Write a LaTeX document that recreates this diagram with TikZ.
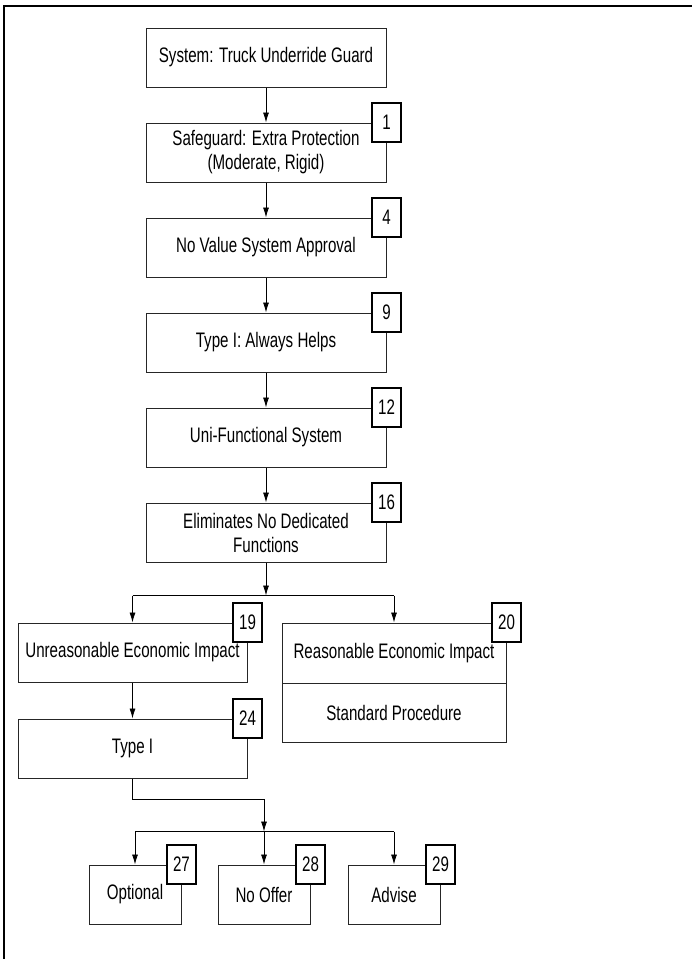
\documentclass[tikz,border=0pt]{standalone}
\usepackage{fontspec}
\setmainfont{Liberation Sans}[FakeStretch=0.72]
\usetikzlibrary{positioning,arrows.meta}

\begin{document}
\begin{tikzpicture}[x=1pt,y=-1pt,node distance=35pt,
    every node/.style={font=\fontsize{21}{24}\selectfont},
    box/.style={draw=black!85,line width=1pt,minimum width=240pt,minimum height=59pt,align=center,inner sep=0pt},
    tag/.style={draw,fill=white,line width=1.4pt,minimum width=29pt,minimum height=39pt,inner sep=0pt},
    conn/.style={draw,line width=0.8pt,-{Latex[length=10pt,width=6pt]}}]
  \useasboundingbox (0,0) rectangle (692,959);
  \draw[line width=1.6pt] (692,6) -- (4,6) -- (4,959);
  % main chain
  \node[box] (sys) at (266,57.5) {System: Truck Underride Guard};
  \node[box,below=of sys] (safe) {Safeguard: Extra Protection\\(Moderate, Rigid)};
  \node[box,below=of safe] (noval) {No Value System Approval};
  \node[box,below=of noval] (always) {Type I: Always Helps};
  \node[box,below=of always] (uni) {Uni-Functional System};
  \node[box,below=of uni] (elim) {Eliminates No Dedicated\\Functions};
  % branches
  \node[box,minimum width=229pt] (unreas) at (132.5,652.5) {Unreasonable Economic Impact};
  \node[box,minimum width=224pt,minimum height=60pt] (reas) at (394,653) {Reasonable Economic Impact};
  \node[box,minimum width=224pt,below=-1pt of reas] (std) {Standard Procedure};
  \node[box,minimum width=229pt] (typeI) at (132.5,748.5) {Type I};
  \node[box,minimum width=92pt] (opt) at (135,894.5) {Optional};
  \node[box,minimum width=92pt] (nooffer) at (264,894.5) {No Offer};
  \node[box,minimum width=92pt] (advise) at (394,894.5) {Advise};
  % number tags
  \node[tag] (t1) at (safe.north east) {1};
  \node[tag] (t4) at (noval.north east) {4};
  \node[tag] (t9) at (always.north east) {9};
  \node[tag] (t12) at (uni.north east) {12};
  \node[tag] (t16) at (elim.north east) {16};
  \node[tag] (t19) at (unreas.north east) {19};
  \node[tag] (t20) at (reas.north east) {20};
  \node[tag] (t24) at (typeI.north east) {24};
  \node[tag] (t27) at (opt.north east) {27};
  \node[tag] (t28) at (nooffer.north east) {28};
  \node[tag] (t29) at (advise.north east) {29};
  % connectors
  \draw[conn] (sys) -- (safe);
  \draw[conn] (safe) -- (noval);
  \draw[conn] (noval) -- (always);
  \draw[conn] (always) -- (uni);
  \draw[conn] (uni) -- (elim);
  \coordinate (split) at ([yshift=-33pt]elim.south);
  \draw[conn] (elim) -- (split);
  \draw[line width=0.8pt] (unreas.north |- split) -- (reas.north |- split);
  \draw[conn] (unreas.north |- split) -- (unreas);
  \draw[conn] (reas.north |- split) -- (reas);
  \draw[conn] (unreas) -- (typeI);
  \coordinate (bend) at ([yshift=-21pt]typeI.south);
  \coordinate (join) at ([yshift=33pt]nooffer.north);
  \draw[conn] (typeI.south) -- (bend) -| (join);
  \draw[line width=0.8pt] (opt.north |- join) -- (advise.north |- join);
  \foreach \n in {opt,nooffer,advise}
    \draw[conn] (\n.north |- join) -- (\n);
\end{tikzpicture}
\end{document}
